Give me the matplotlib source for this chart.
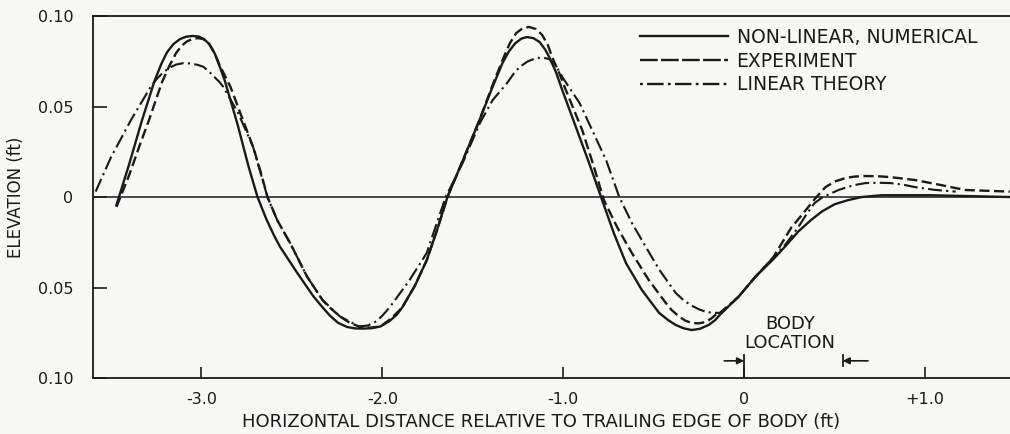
import matplotlib
matplotlib.use("Agg")
import matplotlib.pyplot as plt
from matplotlib.lines import Line2D

plt.rcParams['font.family'] = ['DejaVu Sans']

# Wave elevation profiles (ft) versus distance from trailing edge of body (ft)
x_numerical = [-3.47, -3.40, -3.33, -3.26, -3.22, -3.19, -3.155, -3.12, -3.085, -3.05,
               -3.015, -2.985, -2.955, -2.925, -2.895, -2.87, -2.80, -2.74, -2.69, -2.64,
               -2.60, -2.565, -2.47, -2.38, -2.33, -2.29, -2.245, -2.195, -2.15, -2.11,
               -2.06, -2.01, -1.96, -1.92, -1.89, -1.82, -1.755, -1.70, -1.64, -1.556,
               -1.463, -1.39, -1.336, -1.30, -1.265, -1.23, -1.20, -1.165, -1.13, -1.10,
               -1.077, -1.04, -1.005, -0.93, -0.857, -0.785, -0.72, -0.653, -0.565, -0.47,
               -0.42, -0.378, -0.335, -0.29, -0.245, -0.196, -0.16, -0.124, -0.03, 0.063,
               0.16, 0.23, 0.30, 0.37, 0.43, 0.50, 0.575, 0.65, 0.76, 1.03,
               1.25, 1.47]
y_numerical = [-0.0044, 0.018, 0.042, 0.064, 0.074, 0.080, 0.0845, 0.0872, 0.0886, 0.089,
               0.0887, 0.0872, 0.0843, 0.079, 0.071, 0.064, 0.040, 0.017, 0.0, -0.0125,
               -0.021, -0.0276, -0.042, -0.055, -0.061, -0.0655, -0.0695, -0.0718, -0.0726, -0.0727,
               -0.0725, -0.0715, -0.0685, -0.065, -0.061, -0.049, -0.035, -0.019, 0.0, 0.020,
               0.0425, 0.061, 0.074, 0.0805, 0.085, 0.0876, 0.0884, 0.0878, 0.0856, 0.0815,
               0.0773, 0.069, 0.059, 0.0387, 0.0188, -0.0017, -0.020, -0.0365, -0.0514, -0.064,
               -0.068, -0.0707, -0.0725, -0.0735, -0.0728, -0.0707, -0.068, -0.064, -0.055, -0.044,
               -0.0345, -0.027, -0.019, -0.0127, -0.008, -0.004, -0.0017, 0.0, 0.001, 0.001,
               0.0005, 0.0]

x_experiment = [-3.47, -3.40, -3.34, -3.29, -3.22, -3.18, -3.14, -3.11, -3.08, -3.05,
                -3.02, -2.99, -2.96, -2.93, -2.90, -2.87, -2.84, -2.78, -2.714, -2.67,
                -2.635, -2.58, -2.51, -2.416, -2.33, -2.28, -2.234, -2.18, -2.13, -2.07,
                -2.01, -1.95, -1.89, -1.82, -1.755, -1.70, -1.64, -1.556, -1.463, -1.39,
                -1.33, -1.295, -1.26, -1.225, -1.19, -1.15, -1.116, -1.085, -1.06, -1.02,
                -0.985, -0.895, -0.83, -0.775, -0.70, -0.62, -0.526, -0.433, -0.40, -0.36,
                -0.325, -0.29, -0.25, -0.21, -0.18, -0.157, -0.124, -0.03, 0.063, 0.16,
                0.26, 0.31, 0.355, 0.40, 0.45, 0.50, 0.56, 0.61, 0.67, 0.74,
                0.81, 0.945, 1.09, 1.22, 1.47]
y_experiment = [-0.0055, 0.012, 0.029, 0.0425, 0.063, 0.072, 0.0796, 0.0835, 0.086, 0.0873,
                0.0878, 0.0873, 0.085, 0.080, 0.073, 0.067, 0.061, 0.045, 0.0276, 0.013,
                0.0, -0.013, -0.0254, -0.044, -0.057, -0.062, -0.066, -0.0695, -0.0715, -0.0722,
                -0.0715, -0.067, -0.061, -0.049, -0.035, -0.019, 0.0, 0.020, 0.0425, 0.062,
                0.077, 0.085, 0.0906, 0.0932, 0.094, 0.0928, 0.0895, 0.084, 0.077, 0.068,
                0.059, 0.037, 0.0166, -0.0017, -0.017, -0.031, -0.046, -0.0585, -0.0625, -0.066,
                -0.0683, -0.0696, -0.0698, -0.069, -0.067, -0.065, -0.064, -0.055, -0.044, -0.0335,
                -0.017, -0.011, -0.0055, 0.0, 0.0055, 0.0085, 0.0105, 0.0113, 0.0116, 0.0115,
                0.011, 0.0094, 0.0066, 0.0039, 0.003]

x_linear = [-3.585, -3.50, -3.39, -3.28, -3.245, -3.21, -3.175, -3.14, -3.10, -3.06,
            -3.02, -2.99, -2.96, -2.93, -2.90, -2.88, -2.80, -2.714, -2.635, -2.58,
            -2.51, -2.416, -2.33, -2.234, -2.13, -2.08, -2.03, -1.995, -1.96, -1.905,
            -1.85, -1.755, -1.65, -1.556, -1.46, -1.39, -1.31, -1.275, -1.24, -1.195,
            -1.15, -1.11, -1.077, -1.04, -1.005, -0.91, -0.84, -0.763, -0.69, -0.62,
            -0.543, -0.47, -0.378, -0.335, -0.29, -0.25, -0.21, -0.17, -0.135, -0.03,
            0.063, 0.16, 0.23, 0.30, 0.345, 0.39, 0.435, 0.48, 0.52, 0.57,
            0.62, 0.67, 0.74, 0.81, 0.88, 0.945, 1.05, 1.17]
y_linear = [0.003, 0.022, 0.0425, 0.061, 0.0655, 0.069, 0.0715, 0.0732, 0.074, 0.0738,
            0.073, 0.072, 0.0695, 0.0665, 0.0635, 0.061, 0.047, 0.0276, 0.0, -0.013,
            -0.0254, -0.044, -0.057, -0.066, -0.0715, -0.071, -0.0685, -0.065, -0.061, -0.0535,
            -0.046, -0.031, 0.0, 0.0188, 0.041, 0.0536, 0.063, 0.068, 0.072, 0.075,
            0.0768, 0.077, 0.0762, 0.0725, 0.0663, 0.052, 0.037, 0.0204, 0.0, -0.0144,
            -0.0276, -0.040, -0.053, -0.057, -0.060, -0.062, -0.0635, -0.064, -0.064, -0.055,
            -0.044, -0.0335, -0.026, -0.0166, -0.0095, -0.0033, 0.0, 0.002, 0.0038, 0.0055,
            0.0068, 0.0077, 0.0079, 0.0077, 0.0068, 0.0055, 0.004, 0.003]

series_labels = ["NON-LINEAR, NUMERICAL", "EXPERIMENT", "LINEAR THEORY"]
x_ticks = [-3.0, -2.0, -1.0, 0.0, 1.0]
x_tick_labels = ["-3.0", "-2.0", "-1.0", "0", "+1.0"]
y_ticks = [-0.10, -0.05, 0.0, 0.05, 0.10]
y_tick_labels = ["0.10", "0.05", "0", "0.05", "0.10"]
body_start, body_end = 0.0, 0.545

ink = "#1a1a1a"
bg = "#f7f7f5"

fig = plt.figure(figsize=(10.10, 4.34), dpi=100, facecolor=bg)
ax = fig.add_axes([0.092, 0.129, 0.908, 0.834], facecolor=bg)

ax.set_xlim(-3.6, 1.47)
ax.set_ylim(-0.10, 0.10)

lw = 1.7
ax.plot(x_numerical, y_numerical, color=ink, lw=lw, ls='-', solid_joinstyle='round')
ax.plot(x_experiment, y_experiment, color=ink, lw=lw, ls=(0, (4.3, 1.9)))
ax.plot(x_linear, y_linear, color=ink, lw=lw * 0.9, ls=(0, (6.5, 2.0, 1.0, 2.0)))

# zero elevation line
ax.axhline(0.0, color=ink, lw=1.1)

for side in ('left', 'top', 'bottom'):
    ax.spines[side].set_linewidth(1.3)
    ax.spines[side].set_color(ink)
ax.spines['right'].set_visible(False)

ax.set_xticks(x_ticks)
ax.set_xticklabels(x_tick_labels)
ax.set_yticks(y_ticks)
ax.set_yticklabels(y_tick_labels)
ax.tick_params(axis='x', direction='in', length=8, width=1.2, pad=10,
               labelsize=11.5, colors=ink)
ax.tick_params(axis='y', direction='in', length=10, width=1.2, pad=14,
               labelsize=11.5, colors=ink)

ax.set_xlabel("HORIZONTAL DISTANCE RELATIVE TO TRAILING EDGE OF BODY (ft)",
              fontsize=13, color=ink)
ax.xaxis.set_label_coords(0.489, -0.096)
ax.set_ylabel("ELEVATION (ft)", fontsize=12, color=ink)
ax.yaxis.set_label_coords(-0.074, 0.5)

# body location marker
ax.text((body_start + body_end) / 2 - 0.02, -0.0755, "BODY\nLOCATION", ha='center',
        va='center', fontsize=13, color=ink, linespacing=1.05)
ax.plot([body_start, body_start], [-0.10, -0.0875], color=ink, lw=1.3)
ax.plot([body_end, body_end], [-0.0875, -0.0935], color=ink, lw=1.3)
ax.annotate("", xy=(body_start, -0.0905), xytext=(body_start - 0.11, -0.0905),
            arrowprops=dict(arrowstyle='-|>', color=ink, lw=1.2,
                            mutation_scale=10, shrinkA=0, shrinkB=0))
ax.annotate("", xy=(body_end, -0.0905), xytext=(body_end + 0.14, -0.0905),
            arrowprops=dict(arrowstyle='-|>', color=ink, lw=1.2,
                            mutation_scale=10, shrinkA=0, shrinkB=0))

handles = [
    Line2D([], [], color=ink, lw=lw, ls='-'),
    Line2D([], [], color=ink, lw=lw, ls=(0, (7.5, 1.4))),
    Line2D([], [], color=ink, lw=lw, ls=(0, (1.2, 1.8, 7, 1.8))),
]
leg = ax.legend(handles, series_labels, loc='upper left',
                bbox_to_anchor=(0.5965, 0.967), frameon=False, fontsize=13.5,
                handlelength=4.7, handletextpad=0.45, labelspacing=0.25,
                borderpad=0, borderaxespad=0)
for t in leg.get_texts():
    t.set_color(ink)

fig.savefig("out.png", dpi=100, facecolor=bg)
